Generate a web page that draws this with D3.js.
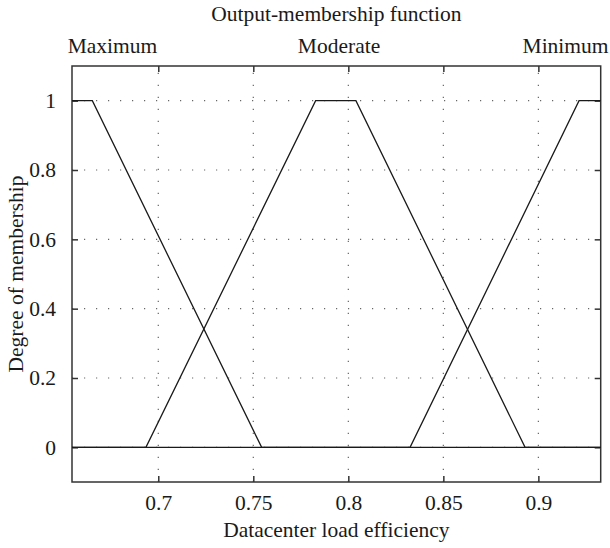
<!DOCTYPE html>
<html>
<head>
<meta charset="utf-8">
<script src="https://cdn.jsdelivr.net/npm/d3@7"></script>
<style>
  html, body { margin: 0; padding: 0; background: #fff; }
  svg { display: block; }
  text { font-family: "Liberation Serif", "DejaVu Serif", serif; fill: #1a1a1a; }
</style>
</head>
<body>
<svg id="chart" width="610" height="548"></svg>
<script>
// Membership function sets of the output variable
const categories = ["Maximum", "Moderate", "Minimum"];
const categoryCenters = [0.6759, 0.7951, 0.9143];

const maximumX = [0.6546, 0.6653, 0.7544, 0.9328];
const maximumY = [1, 1, 0, 0];
const moderateX = [0.6546, 0.6935, 0.7828, 0.8040, 0.8930, 0.9328];
const moderateY = [0, 0, 1, 1, 0, 0];
const minimumX = [0.6546, 0.8325, 0.9214, 0.9328];
const minimumY = [0, 0, 1, 1];

const xTicks = [0.7, 0.75, 0.8, 0.85, 0.9];
const yTicks = [0, 0.2, 0.4, 0.6, 0.8, 1];
const xDomain = [0.6546, 0.9328];
const yDomain = [-0.1, 1.1];

const title = "Output-membership function";
const xLabel = "Datacenter load efficiency";
const yLabel = "Degree of membership";

const svg = d3.select("#chart");
const plotL = 72, plotR = 600.7, plotT = 66, plotB = 482;
const x = d3.scaleLinear().domain(xDomain).range([plotL, plotR]);
const y = d3.scaleLinear().domain(yDomain).range([plotB, plotT]);
const fmt = d => String(d);
const fontSize = 21.5;

// dotted grid
const grid = svg.append("g").attr("stroke", "#666").attr("stroke-width", 1.2)
  .attr("stroke-dasharray", "1.2 10.8");
grid.selectAll("line.gx").data(xTicks).join("line").attr("class", "gx")
  .attr("x1", d => x(d)).attr("x2", d => x(d))
  .attr("y1", plotB).attr("y2", plotT);
grid.selectAll("line.gy").data(yTicks).join("line").attr("class", "gy")
  .attr("y1", d => y(d)).attr("y2", d => y(d))
  .attr("x1", plotL).attr("x2", plotR);

// axes with inward ticks on all four sides
const tickLen = 6;
const axisB = svg.append("g").attr("transform", `translate(0,${plotB})`)
  .call(d3.axisBottom(x).tickValues(xTicks).tickFormat(fmt).tickSizeInner(-tickLen).tickSizeOuter(0).tickPadding(13));
const axisT = svg.append("g").attr("transform", `translate(0,${plotT})`)
  .call(d3.axisTop(x).tickValues(xTicks).tickFormat("").tickSizeInner(-tickLen).tickSizeOuter(0));
const axisL = svg.append("g").attr("transform", `translate(${plotL},0)`)
  .call(d3.axisLeft(y).tickValues(yTicks).tickFormat(fmt).tickSizeInner(-tickLen).tickSizeOuter(0).tickPadding(16));
const axisR = svg.append("g").attr("transform", `translate(${plotR},0)`)
  .call(d3.axisRight(y).tickValues(yTicks).tickFormat("").tickSizeInner(-tickLen).tickSizeOuter(0));

[axisB, axisT, axisL, axisR].forEach(a => {
  a.select(".domain").remove();
  a.selectAll(".tick line").attr("stroke", "#333").attr("stroke-width", 1.5);
  a.selectAll(".tick text").attr("font-family", "Liberation Serif, serif")
    .attr("font-size", fontSize).attr("fill", "#1a1a1a");
});

// frame
svg.append("rect").attr("x", plotL).attr("y", plotT)
  .attr("width", plotR - plotL).attr("height", plotB - plotT)
  .attr("fill", "none").attr("stroke", "#333").attr("stroke-width", 1.5);

// membership curves
const line = d3.line().x(d => x(d[0])).y(d => y(d[1]));
const sets = [
  d3.zip(maximumX, maximumY),
  d3.zip(moderateX, moderateY),
  d3.zip(minimumX, minimumY)
];
svg.append("g").selectAll("path").data(sets).join("path")
  .attr("d", line).attr("fill", "none")
  .attr("stroke", "#1a1a1a").attr("stroke-width", 1.3)
  .attr("stroke-linejoin", "miter");

// set names above the frame
svg.append("g").selectAll("text").data(categories).join("text")
  .attr("x", (d, i) => x(categoryCenters[i])).attr("y", 53)
  .attr("text-anchor", "middle").attr("font-size", fontSize).text(d => d);

// titles
svg.append("text").attr("x", (plotL + plotR) / 2).attr("y", 21)
  .attr("text-anchor", "middle").attr("font-size", fontSize).text(title);
svg.append("text").attr("x", (plotL + plotR) / 2).attr("y", 537)
  .attr("text-anchor", "middle").attr("font-size", fontSize).text(xLabel);
svg.append("text")
  .attr("transform", `translate(23,${(plotT + plotB) / 2}) rotate(-90)`)
  .attr("text-anchor", "middle").attr("font-size", fontSize).text(yLabel);
</script>
</body>
</html>
